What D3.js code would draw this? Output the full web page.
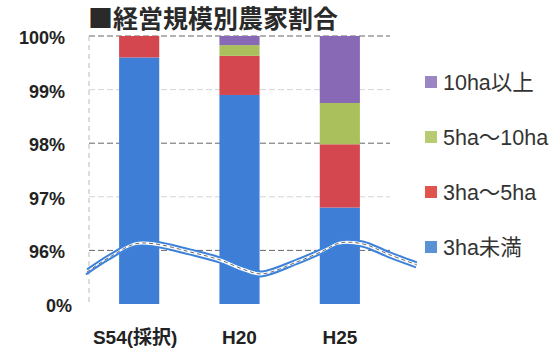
<!DOCTYPE html>
<html>
<head>
<meta charset="utf-8">
<script src="https://cdn.jsdelivr.net/npm/d3@7"></script>
<style>
  html, body { margin: 0; padding: 0; background: #fff; }
  svg { display: block; font-family: "Noto Sans CJK JP", "Liberation Sans", sans-serif; }
</style>
</head>
<body>
<svg id="chart" width="560" height="356"></svg>
<script>
// Farm-size shares (%) per survey year
const categories = ["S54(採択)", "H20", "H25"];
const seriesKeys = ["lt3", "3to5", "5to10", "ge10"];
const seriesNames = ["3ha未満", "3ha〜5ha", "5ha〜10ha", "10ha以上"];
const lt3   = [99.6, 98.9, 96.8];
const r3to5 = [0.4, 0.73, 1.18];
const r5to10 = [0, 0.2, 0.77];
const ge10  = [0, 0.17, 1.25];
const yTicks = [0, 96, 97, 98, 99, 100];
const titleText = "■経営規模別農家割合";

const barColors = ["#3e7ed6", "#d5474f", "#a9c05d", "#8869b5"];
const legendColors = ["#5b92d6", "#e0544f", "#b9cb72", "#9b86c4"];

const rows = categories.map((c, i) => ({
  cat: c, lt3: lt3[i], "3to5": r3to5[i], "5to10": r5to10[i], ge10: ge10[i]
}));

const svg = d3.select("#chart");
const plotLeft = 89, plotRight = 390, plotTop = 36, plotBottom = 304;
const unit = (plotBottom - plotTop) / 5;

// Broken value axis: 0 → 96 squeezed into one unit at the bottom
const y = d3.scaleLinear().domain([0, 96, 100])
  .range([plotBottom, plotBottom - unit, plotTop]);
const x = d3.scaleBand().domain(categories).range([plotLeft, plotRight])
  .paddingInner(0.6).paddingOuter(0.3);

// gridlines
svg.append("g").selectAll("line").data(yTicks.filter(d => d > 0)).join("line")
  .attr("x1", plotLeft).attr("x2", plotRight)
  .attr("y1", d => y(d)).attr("y2", d => y(d))
  .attr("stroke", d => (d % 2 === 0 ? "#666" : "#d4d4d4"))
  .attr("stroke-width", 1)
  .attr("stroke-dasharray", "6,3");

// left axis line
svg.append("line").attr("x1", plotLeft).attr("x2", plotLeft)
  .attr("y1", plotTop).attr("y2", plotBottom)
  .attr("stroke", "#bbb").attr("stroke-dasharray", "5,4");

// stacked bars
const stack = d3.stack().keys(seriesKeys)(rows);
svg.append("g").selectAll("g").data(stack).join("g")
  .attr("fill", (d, i) => barColors[i])
  .selectAll("rect").data(d => d).join("rect")
  .attr("x", d => x(d.data.cat))
  .attr("width", x.bandwidth())
  .attr("y", d => y(d[1]))
  .attr("height", d => Math.max(0, y(d[0]) - y(d[1])));

// y axis labels
const yAxis = d3.axisLeft(y).tickValues(yTicks).tickSize(0).tickPadding(0)
  .tickFormat(d => d + "%");
const ya = svg.append("g").attr("transform", "translate(65,0)").call(yAxis);
ya.select(".domain").remove();
ya.selectAll("text")
  .attr("font-family", "Liberation Sans, Arial, sans-serif")
  .attr("font-weight", "bold").attr("font-size", 18).attr("fill", "#222")
  .attr("dy", "0.42em")
  .attr("dx", d => (d === 0 ? 7 : 0));

// x axis labels
const xAxis = d3.axisBottom(x).tickSize(0).tickPadding(0);
const xa = svg.append("g").attr("transform", "translate(0,330)").call(xAxis);
xa.select(".domain").remove();
xa.selectAll("text")
  .attr("font-family", "Liberation Sans, 'Noto Sans CJK JP', sans-serif")
  .attr("font-weight", "bold").attr("font-size", 19).attr("fill", "#222")
  .attr("dy", "0.75em")
  .attr("dx", d => (d === categories[0] ? -4 : 0));

// axis-break wave across the lower part of the plot
const waveDx = [-2, 21, 46, 66, 101, 131, 156, 173, 208, 234, 251, 274, 301, 328];
const waveDy = [19, 4, -9, -9, -1, 7, 17, 21, 9, -2, -10, -9, 2, 12];
const y96 = y(96);
const upper = waveDx.map((dx, i) => [plotLeft + dx, y96 + waveDy[i]]);
const lower = upper.map(p => [p[0] - 1, p[1] + 5]);
const line = d3.line().curve(d3.curveCatmullRom);
const area = d3.area().curve(d3.curveCatmullRom)
  .x(d => d[0]).y0(d => d[1]).y1(d => d[1] + 5);
svg.append("path").attr("d", area(upper)).attr("fill", "#fff");
svg.append("path").attr("d", line(upper)).attr("fill", "none")
  .attr("stroke", "#3d82da").attr("stroke-width", 2);
svg.append("path").attr("d", line(lower)).attr("fill", "none")
  .attr("stroke", "#3d82da").attr("stroke-width", 2);
svg.append("path").attr("d", line(upper.map(p => [p[0], p[1] + 2.5]))).attr("fill", "none")
  .attr("stroke", "#444").attr("stroke-width", 0.8).attr("stroke-dasharray", "4,3");

// title
svg.append("text").attr("x", 88).attr("y", 28)
  .attr("font-family", "Noto Sans CJK JP").attr("font-weight", "bold")
  .attr("font-size", 25).attr("fill", "#2a2a2a").text(titleText);

// legend (top entry = top of stack)
const legendOrder = [3, 2, 1, 0];
const lg = svg.append("g").selectAll("g").data(legendOrder).join("g")
  .attr("transform", (d, i) => `translate(425,${82 + i * 55})`);
lg.append("rect").attr("x", 0).attr("y", -6).attr("width", 12).attr("height", 12)
  .attr("fill", d => legendColors[d]);
lg.append("text").attr("x", 18).attr("dy", "0.36em")
  .attr("font-family", "Liberation Sans, 'Noto Sans CJK JP', sans-serif")
  .attr("font-size", 21.5).attr("fill", "#333")
  .text(d => seriesNames[d]);
</script>
</body>
</html>
